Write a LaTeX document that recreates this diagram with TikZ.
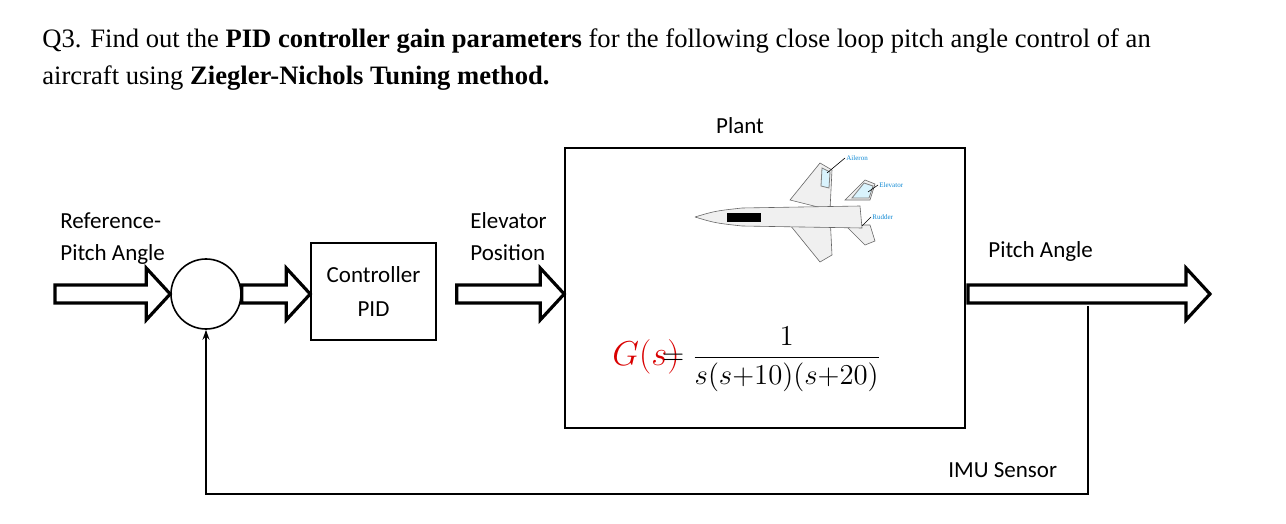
\documentclass[tikz,border=0pt]{standalone}
\usepackage{fontspec}
\setmainfont{Liberation Serif}
\newfontfamily\calfont{Carlito}
\usetikzlibrary{calc,arrows.meta}

\newcommand\fatarrow[2]{%
  \draw [fat] let \p1=#1, \p2=#2 in
    (\x1,\y1+4.5pt) -- (\x2-12pt,\y1+4.5pt) -- (\x2-12pt,\y1+13pt) -- (\x2,\y1)
    -- (\x2-12pt,\y1-13pt) -- (\x2-12pt,\y1-4.5pt) -- (\x1,\y1-4.5pt) -- cycle;}

\begin{document}
\begin{tikzpicture}[
  x=0.5pt, y=-0.5pt,
  lbl/.style={font=\calfont\fontsize{11.5}{13}\selectfont, inner sep=0},
  blk/.style={draw, thick},
  fat/.style={draw, line width=1.6pt, fill=white, line join=miter},
  part/.style={font=\fontsize{3.5}{4}\selectfont, text=cyan!70!blue, inner sep=0.5pt},
  jet/.style={draw=gray!80!black, fill=gray!12, line width=0.3pt},
]
\useasboundingbox (0,0) rectangle (1286,524);

% question
\node [anchor=base west, inner sep=0, font=\fontsize{13.3}{15}\selectfont] (q1) at (42,48)
  {Q3. Find out the \textbf{PID controller gain parameters} for the following close loop pitch angle control of an};
\node [anchor=base west, inner sep=0, font=\fontsize{13.3}{15}\selectfont] (q2) at (42,85)
  {aircraft using \textbf{Ziegler-Nichols Tuning method.}};

% blocks
\node [blk, circle, minimum size=35pt] (sum) at (206,294) {};
\node [blk, minimum width=62.5pt, minimum height=48.5pt, lbl, align=center] (pid) at (373.5,291.5) {Controller\\[4pt]PID};
\node [blk, minimum width=200pt, minimum height=140pt] (plant) at (765,288) {};
\node [lbl] (plantlbl) at (740,126) {Plant};

\coordinate (in) at (55,294);
\coordinate (out) at (1210,294);
\coordinate (start) at (968,294);
\coordinate (tap) at (1088,306);

\fatarrow{(in)}{(sum.west)}
\fatarrow{(sum.east)}{(pid.west)}
\fatarrow{($(pid.east)+(20,2.5)$)}{($(plant.west)+(0,6)$)}
\fatarrow{(start)}{(out)}

% feedback
\draw [thick, -{Stealth[length=5pt,width=3.5pt]}] (tap) |- (206,494) -- (sum.south);

% labels
\node [lbl, anchor=base west] (ref1) at (60,228) {Reference-};
\node [lbl, anchor=base west] (ref2) at (60,260) {Pitch Angle};
\node [lbl, anchor=base west] (el1) at (470,228) {Elevator};
\node [lbl, anchor=base west] (el2) at (470,260) {Position};
\node [lbl, anchor=base west] (pa) at (988,257) {Pitch Angle};
\node [lbl, anchor=base west] (imu) at (948,477) {IMU Sensor};

% transfer function
\node [inner sep=0, anchor=east, text=red!85!black, font=\fontsize{17}{19}\selectfont] (gs) at (680,357) {$G(s)$};
\node [inner sep=0, anchor=west, font=\fontsize{15}{17}\selectfont] (tf) at (662,359)
  {$\displaystyle = \frac{\,1\,}{s(s{+}10)(s{+}20)}$};

% aircraft, top view
\draw [jet] (820,163) -- (832,170) -- (830,210) -- (790,200) -- cycle;
\draw [jet] (820,262) -- (832,255) -- (830,215) -- (790,225) -- cycle;
\draw [jet] (865,180) -- (875,184) -- (870,200) -- (845,200) -- cycle;
\draw [jet] (865,245) -- (875,241) -- (870,225) -- (845,225) -- cycle;
\draw [jet] (695,217) .. controls (715,211) .. (742,208) -- (860,206) -- (862,228) -- (742,226) .. controls (715,223) .. (695,217);
\draw [fill=black] (727,213) rectangle (760,221);
\draw [fill=cyan!15, draw=gray] (822,168) -- (830,172) -- (829,188) -- (821,186) -- cycle;
\draw [fill=cyan!15, draw=gray] (864,183) -- (873,186) -- (869,198) -- (852,198) -- cycle;
\node [part, anchor=west] (ail) at (845,158) {Aileron};
\node [part, anchor=west] (elv) at (878,185) {Elevator};
\node [part, anchor=west] (rud) at (871,217) {Rudder};
\draw [line width=0.3pt] (ail.west) -- (827,173);
\draw [line width=0.3pt] (elv.west) -- (868,192);
\draw [line width=0.3pt] (rud.west) -- (862,226);
\end{tikzpicture}
\end{document}
